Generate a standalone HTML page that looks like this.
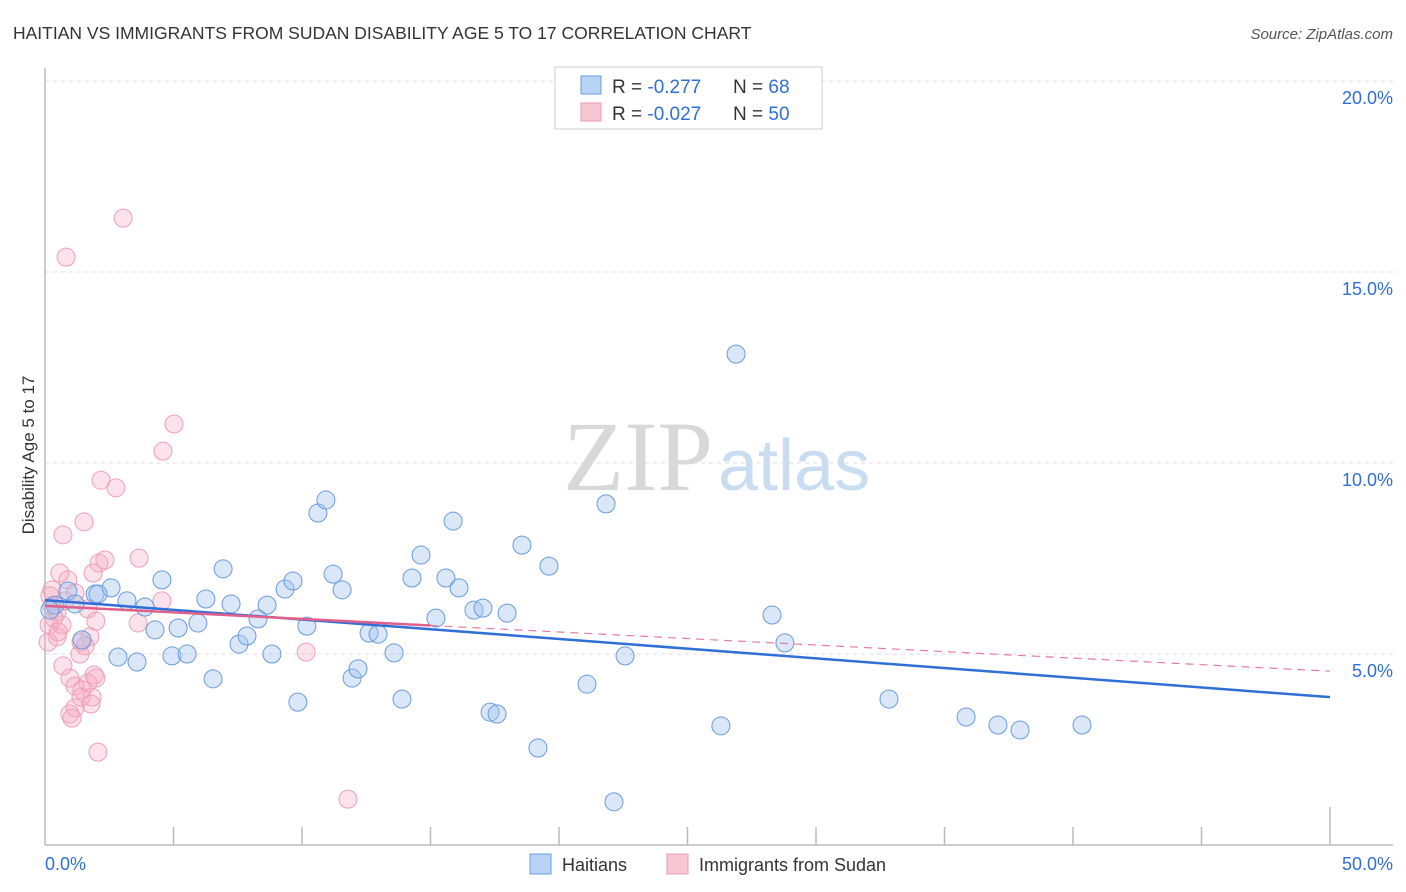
<!DOCTYPE html>
<html><head><meta charset="utf-8">
<style>
body{margin:0;background:#fff;font-family:"Liberation Sans",sans-serif;}
svg{display:block}
</style></head>
<body>
<svg id="chart" width="1406" height="892" xmlns="http://www.w3.org/2000/svg">
<text x="13" y="39" font-size="17.5" fill="#333">HAITIAN VS IMMIGRANTS FROM SUDAN DISABILITY AGE 5 TO 17 CORRELATION CHART</text>
<text x="1393" y="39" font-size="15" fill="#555" font-style="italic" text-anchor="end">Source: ZipAtlas.com</text>
<text x="713" y="490" font-size="100" fill="#d8d8d8" font-family="Liberation Serif,serif" text-anchor="end">ZIP</text>
<text x="718" y="490" font-size="72" fill="#c9dcf2">atlas</text>
<text transform="translate(34,455) rotate(-90)" font-size="17" fill="#333" text-anchor="middle">Disability Age 5 to 17</text>
<g id="grid"></g>
<g id="axes"></g>
<g id="pts"></g>
<g id="lines"></g>
<g>
<rect x="555" y="67" width="267" height="62" fill="#fff" stroke="#ccc"/>
<rect x="581" y="76" width="20" height="18" fill="#b8d3f4" stroke="#6a9de0"/>
<rect x="581" y="103" width="20" height="18" fill="#f9c6d4" stroke="#ec9ab2"/>
<text x="612" y="93" font-size="19" fill="#333">R = <tspan fill="#2f6fd6">-0.277</tspan><tspan x="733">N = </tspan><tspan fill="#2f6fd6">68</tspan></text>
<text x="612" y="120" font-size="19" fill="#333">R = <tspan fill="#2f6fd6">-0.027</tspan><tspan x="733">N = </tspan><tspan fill="#2f6fd6">50</tspan></text>
</g>
<g>
<rect x="530" y="854" width="21" height="20" fill="#b8d3f4" stroke="#6a9de0"/>
<text x="562" y="871" font-size="18" fill="#333">Haitians</text>
<rect x="667" y="854" width="21" height="20" fill="#f9c6d4" stroke="#ec9ab2"/>
<text x="699" y="871" font-size="18" fill="#333">Immigrants from Sudan</text>
</g>
</svg>
<script>
const yTicks=[5,10,15,20];
const yTickLabels=["5.0%","10.0%","15.0%","20.0%"];
const xTicks=[0,5,10,15,20,25,30,35,40,45,50];
const blueX=[0.89,0.39,1.17,1.95,2.57,2.06,3.19,3.89,4.55,2.84,3.58,4.28,4.94,5.18,5.53,5.95,6.26,6.54,6.93,7.24,7.55,7.86,8.29,8.64,8.83,9.34,9.65,9.84,10.19,10.62,10.93,11.21,11.56,11.95,12.18,12.61,12.96,13.58,13.89,14.28,14.63,15.21,15.60,15.88,16.11,16.69,17.04,17.32,17.59,17.98,18.56,19.18,19.61,21.09,21.83,22.14,22.57,26.30,26.89,28.29,28.79,32.84,35.84,37.08,37.94,40.35,1.44,0.19];
const blueY=[6.65,6.28,6.31,6.57,6.73,6.57,6.39,6.23,6.94,4.92,4.79,5.63,4.95,5.68,5.00,5.81,6.44,4.35,7.23,6.31,5.26,5.47,5.92,6.28,5.00,6.70,6.91,3.74,5.73,8.69,9.03,7.09,6.68,4.37,4.61,5.55,5.52,5.03,3.82,6.99,7.59,5.94,6.99,8.48,6.73,6.15,6.20,3.48,3.43,6.07,7.85,2.54,7.30,4.21,8.93,1.13,4.95,3.12,12.85,6.02,5.29,3.82,3.35,3.14,3.01,3.14,5.37,6.15];
const pinkX=[3.04,0.82,5.02,4.59,2.18,2.76,1.52,0.70,3.66,2.10,1.87,0.58,0.89,0.27,1.17,4.55,1.67,0.27,0.47,1.98,3.62,0.66,0.16,1.75,0.47,1.40,0.12,10.16,1.36,0.70,1.91,0.97,1.67,1.98,1.17,1.44,1.40,1.83,1.79,1.17,0.97,1.05,2.06,11.79,0.78,0.35,0.51,1.56,2.33,0.19];
const pinkY=[16.41,15.39,11.02,10.31,9.55,9.35,8.46,8.12,7.51,7.38,7.12,7.12,6.94,6.68,6.60,6.39,6.18,6.26,6.10,5.86,5.81,5.76,5.76,5.45,5.45,5.31,5.31,5.05,5.00,4.69,4.45,4.37,4.24,4.37,4.16,4.06,3.87,3.87,3.69,3.59,3.43,3.32,2.43,1.20,6.39,5.94,5.58,5.21,7.46,6.52];
const blueTrend=[6.41,3.87];
const pinkTrend=[6.26,4.55];
const pinkSolidEnd=15;

const NS="http://www.w3.org/2000/svg";
const X=v=>45+v*25.7, Y=v=>845-v*38.2;
function mk(tag,attrs,parent){const e=document.createElementNS(NS,tag);for(const k in attrs)e.setAttribute(k,attrs[k]);parent.appendChild(e);return e;}
const grid=document.getElementById('grid'),axes=document.getElementById('axes'),pts=document.getElementById('pts'),lines=document.getElementById('lines');
yTicks.forEach((t,i)=>{
  const l=mk('line',{x1:45,x2:1393,y1:Y(t),y2:Y(t),stroke:'#ddd','stroke-dasharray':'4,4'},grid);
  
  
  const tx=mk('text',{x:1393,y:Y(t)+23,'font-size':18,fill:'#2f6fd6','text-anchor':'end'},grid);
  tx.textContent=yTickLabels[i];
  
  
});
const ax=mk('line',{x1:45,x2:1393,y1:845,y2:845,stroke:'#bbb','stroke-width':1.5},axes);


const ay=mk('line',{x1:45,x2:45,y1:68,y2:845,stroke:'#bbb','stroke-width':1.5},axes);


xTicks.forEach(t=>{
  if(t===0)return;
  const tk=mk('line',{x1:X(t),x2:X(t),y1:t===50?807:827,y2:845,stroke:'#bbb','stroke-width':1.5},axes);
  
  
});
const xl0=mk('text',{x:45,y:870,'font-size':18,fill:'#2f6fd6'},axes);xl0.textContent='0.0%';


const xl1=mk('text',{x:1393,y:870,'font-size':18,fill:'#2f6fd6','text-anchor':'end'},axes);xl1.textContent='50.0%';


pinkX.forEach((v,i)=>{
  const c=mk('circle',{cx:X(v),cy:Y(pinkY[i]),r:9,fill:'rgba(246,172,194,0.35)',stroke:'#ee9fb6','stroke-width':1},pts);
  
  
});
blueX.forEach((v,i)=>{
  const c=mk('circle',{cx:X(v),cy:Y(blueY[i]),r:9,fill:'rgba(160,196,240,0.4)',stroke:'#6a9ade','stroke-width':1},pts);
  
  
});
const bl=mk('line',{x1:X(0),y1:Y(blueTrend[0]),x2:X(50),y2:Y(blueTrend[1]),stroke:'#2f6fd6','stroke-width':2.5},lines);


const py=x=>pinkTrend[0]+(pinkTrend[1]-pinkTrend[0])*x/50;
const pd=mk('line',{x1:X(pinkSolidEnd),y1:Y(py(pinkSolidEnd)),x2:X(50),y2:Y(pinkTrend[1]),stroke:'#e67c9c','stroke-width':1.2,'stroke-dasharray':'8,6'},lines);


const ps=mk('line',{x1:X(0),y1:Y(pinkTrend[0]),x2:X(pinkSolidEnd),y2:Y(py(pinkSolidEnd)),stroke:'#e0608a','stroke-width':2.5},lines);


</script>
</body></html>
